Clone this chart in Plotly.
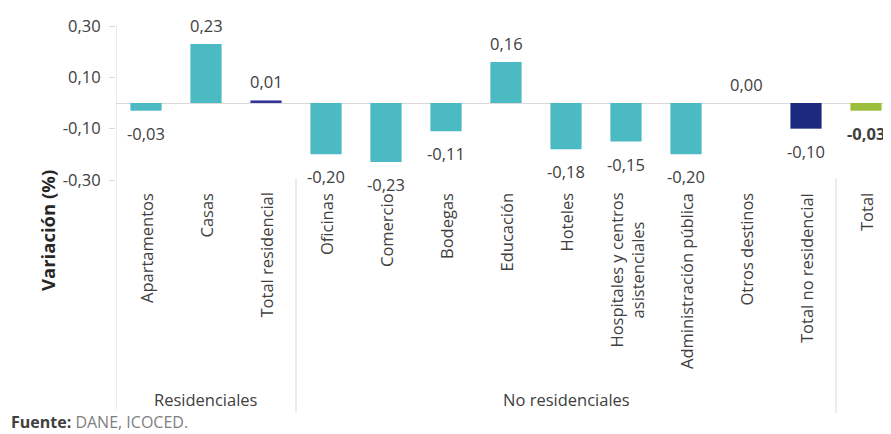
import plotly.graph_objects as go

categories = ["Apartamentos", "Casas", "Total residencial", "Oficinas", "Comercio",
              "Bodegas", "Educación", "Hoteles", "Hospitales y centros<br>asistenciales",
              "Administración pública", "Otros destinos", "Total no residencial", "Total"]
values = [-0.03, 0.23, 0.01, -0.20, -0.23, -0.11, 0.16, -0.18, -0.15, -0.20, 0.00, -0.10, -0.03]
value_labels = ["-0,03", "0,23", "0,01", "-0,20", "-0,23", "-0,11", "0,16", "-0,18",
                "-0,15", "-0,20", "0,00", "-0,10", "-0,03"]
teal = "#4BBAC3"
bar_colors = [teal, teal, "#33339A", teal, teal, teal, teal, teal, teal, teal, teal,
              "#1B2A7E", "#9BBE3C"]
groups = ["Residenciales", "No residenciales"]
group_centers = [1, 7]
tick_vals = [0.30, 0.10, -0.10, -0.30]
tick_text = ["0,30", "0,10", "-0,10", "-0,30"]

FONT = "Open Sans"
TXT = "#404040"
GRID = "#D9D9D9"

# page body has an 8px margin; figure is drawn offset by (8, 8)
OFF = 8
W, H = 891 - OFF, 434 - OFF
ML = 116 - OFF
MT = 26 - OFF
MR = 0
MB = H - (180 - OFF)
ph = H - MT - MB
pw = W - ML - MR
slot = 60.0

def py(ref_pix):
    return (180 - ref_pix) / ph

def px(ref_pix):
    return (ref_pix - 116) / pw

x = list(range(len(categories)))

fig = go.Figure()
fig.add_trace(go.Bar(x=x, y=values, marker=dict(color=bar_colors, line=dict(width=0)),
                     width=0.52, hoverinfo="skip", showlegend=False))

annotations = []
for i, (v, lab) in enumerate(zip(values, value_labels)):
    bold = (i == len(values) - 1)
    txt = f"<b>{lab}</b>" if bold else lab
    if v >= 0:
        annotations.append(dict(x=i, y=v, xref="x", yref="y", text=txt,
                                showarrow=False, yanchor="bottom", yshift=5,
                                font=dict(family=FONT, size=16.5, color=TXT)))
    else:
        annotations.append(dict(x=i, y=v, xref="x", yref="y", text=txt,
                                showarrow=False, yanchor="top", yshift=-9,
                                font=dict(family=FONT, size=16.5, color=TXT)))

for i, c in enumerate(categories):
    annotations.append(dict(x=i, y=py(191), xref="x", yref="paper", text=c, textangle=-90,
                            showarrow=False, yanchor="top", xanchor="center", align="center",
                            font=dict(family=FONT, size=16.5, color=TXT)))

for g, gc in zip(groups, group_centers):
    annotations.append(dict(x=gc, y=py(399), xref="x", yref="paper", text=g, showarrow=False,
                            yanchor="middle", xanchor="center", borderpad=0,
                            font=dict(family=FONT, size=16.5, color=TXT)))

annotations.append(dict(x=px(47), y=py(231), xref="paper", yref="paper",
                        text="<b>Variación (%)</b>", textangle=-90, showarrow=False,
                        xanchor="center", yanchor="middle",
                        font=dict(family=FONT, size=18.5, color="#262626")))

annotations.append(dict(x=px(10), y=py(434), xref="paper", yref="paper",
                        text="<b>Fuente:</b> <span style='color:#7F7F7F'>DANE, ICOCED.</span>",
                        showarrow=False, xanchor="left", yanchor="bottom", borderpad=0,
                        font=dict(family=FONT, size=16, color="#404040")))

shapes = [
    dict(type="line", xref="x", yref="paper", x0=-0.5, x1=-0.5, y0=1.0, y1=py(410),
         line=dict(color=GRID, width=1)),
    dict(type="line", xref="x", yref="paper", x0=2.5, x1=2.5, y0=py(178), y1=py(413),
         line=dict(color=GRID, width=1)),
    dict(type="line", xref="x", yref="paper", x0=11.5, x1=11.5, y0=py(178), y1=py(413),
         line=dict(color=GRID, width=1)),
]

fig.update_layout(
    width=W, height=H,
    margin=dict(l=ML, r=MR, t=MT, b=MB, pad=0),
    paper_bgcolor="white", plot_bgcolor="white",
    bargap=0.48,
    xaxis=dict(range=[-0.5, -0.5 + pw / slot], showticklabels=False, showgrid=False,
               zeroline=False, showline=False, ticks="", fixedrange=True),
    yaxis=dict(range=[-0.30, 0.30], tickvals=tick_vals, ticktext=tick_text,
               ticks="outside", ticklen=6, tickcolor=GRID, showgrid=False,
               zeroline=True, zerolinecolor=GRID, zerolinewidth=1, showline=False,
               tickfont=dict(family=FONT, size=16.5, color=TXT), ticklabelstandoff=5),
    annotations=annotations,
    shapes=shapes,
    showlegend=False,
)

fig.write_html("out.html")
